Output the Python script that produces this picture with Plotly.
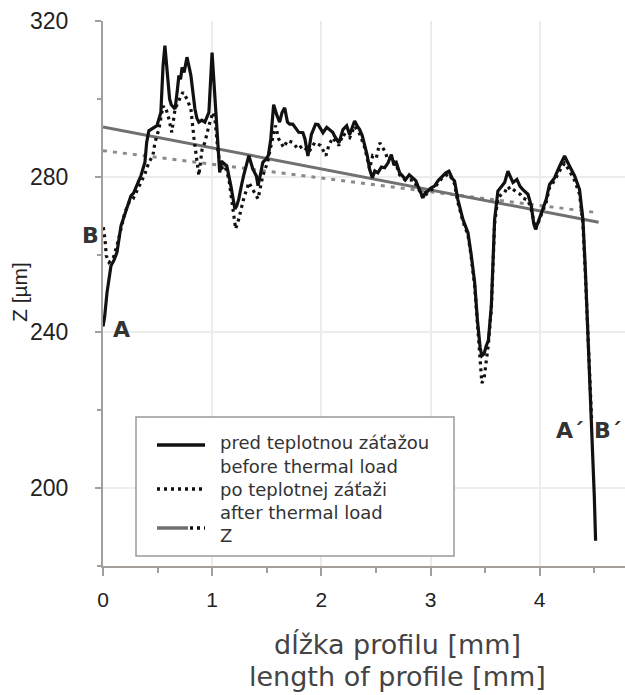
import plotly.graph_objects as go

# ---- data ----
x_before = [0.000, 0.015, 0.037, 0.073, 0.100, 0.128, 0.165, 0.200, 0.220, 0.256, 0.280, 0.311, 0.348, 0.384,
            0.400, 0.420, 0.460, 0.494, 0.530, 0.550, 0.567, 0.585, 0.610, 0.625, 0.660, 0.680, 0.695, 0.710,
            0.725, 0.743, 0.769, 0.790, 0.805, 0.842, 0.860, 0.878, 0.905, 0.933, 0.955, 0.970, 0.999, 1.025,
            1.054, 1.069, 1.084, 1.098, 1.134, 1.171, 1.208, 1.225, 1.244, 1.270, 1.288, 1.336, 1.372, 1.405,
            1.420, 1.445, 1.464, 1.493, 1.515, 1.537, 1.563, 1.590, 1.618, 1.640, 1.664, 1.690, 1.710, 1.738,
            1.765, 1.793, 1.831, 1.850, 1.877, 1.908, 1.947, 1.970, 1.994, 2.015, 2.049, 2.076, 2.104, 2.122,
            2.161, 2.198, 2.232, 2.259, 2.285, 2.305, 2.330, 2.351, 2.375, 2.397, 2.420, 2.442, 2.467, 2.490,
            2.518, 2.550, 2.580, 2.610, 2.641, 2.665, 2.687, 2.717, 2.745, 2.772, 2.805, 2.839, 2.865, 2.885,
            2.910, 2.930, 2.955, 2.976, 3.000, 3.036, 3.070, 3.110, 3.140, 3.169, 3.200, 3.220, 3.250, 3.297,
            3.343, 3.370, 3.404, 3.430, 3.455, 3.470, 3.490, 3.510, 3.530, 3.557, 3.575, 3.587, 3.617, 3.650,
            3.679, 3.709, 3.735, 3.755, 3.791, 3.820, 3.846, 3.892, 3.923, 3.945, 3.962, 3.984, 4.014, 4.060,
            4.090, 4.136, 4.182, 4.228, 4.274, 4.320, 4.365, 4.396, 4.418, 4.442, 4.463, 4.487, 4.500, 4.512]
z_before = [241.5, 244.0, 250.3, 257.1, 258.5, 260.6, 267.4, 270.5, 272.5, 275.1, 275.8, 277.7, 280.3, 283.7,
            288.8, 291.8, 292.5, 293.1, 296.5, 308.5, 313.7, 308.5, 300.0, 298.5, 297.4, 302.0, 306.0, 305.0,
            308.1, 306.8, 310.7, 308.0, 306.0, 297.4, 295.0, 294.0, 294.5, 294.0, 295.5, 296.5, 311.9, 300.0,
            288.0, 281.1, 284.0, 283.7, 282.8, 277.7, 271.7, 272.5, 274.3, 278.0, 280.3, 285.4, 282.0, 280.2,
            277.7, 281.0, 283.7, 284.5, 285.5, 289.7, 298.5, 296.0, 294.0, 296.5, 297.7, 294.0, 293.5, 293.5,
            292.5, 291.4, 291.3, 289.7, 285.3, 290.8, 293.5, 293.4, 292.3, 291.3, 292.7, 292.1, 291.4, 290.4,
            288.7, 292.1, 293.1, 290.8, 292.5, 294.3, 293.0, 292.1, 290.5, 288.3, 285.5, 281.9, 279.7, 281.5,
            281.0, 282.5, 282.3, 283.5, 285.7, 283.0, 283.6, 281.0, 280.0, 279.3, 280.5, 279.7, 279.0, 277.6,
            276.0, 274.6, 276.0, 276.3, 277.0, 277.6, 279.0, 280.2, 281.0, 281.4, 279.5, 278.9, 274.2, 269.0,
            265.6, 260.5, 252.9, 243.0, 236.0, 234.0, 234.5, 236.5, 238.0, 246.8, 262.0, 269.0, 276.3, 277.5,
            278.5, 281.4, 279.5, 278.5, 279.3, 277.5, 276.7, 275.5, 272.5, 268.0, 266.5, 268.2, 270.3, 274.2,
            278.0, 279.7, 282.7, 285.3, 282.7, 280.2, 276.7, 269.0, 256.2, 239.1, 226.0, 211.0, 198.0, 186.5]

x_after = [0.003, 0.018, 0.030, 0.055, 0.090, 0.128, 0.165, 0.200, 0.238, 0.275, 0.311, 0.348, 0.384, 0.420,
           0.457, 0.476, 0.512, 0.550, 0.565, 0.578, 0.604, 0.630, 0.660, 0.702, 0.732, 0.769, 0.805, 0.834,
           0.860, 0.878, 0.908, 0.933, 0.970, 1.006, 1.025, 1.054, 1.080, 1.117, 1.153, 1.190, 1.215, 1.244,
           1.288, 1.336, 1.372, 1.420, 1.464, 1.507, 1.545, 1.580, 1.610, 1.655, 1.690, 1.738, 1.786, 1.830,
           1.885, 1.940, 1.994, 2.042, 2.068, 2.104, 2.161, 2.198, 2.259, 2.305, 2.351, 2.397, 2.442, 2.470,
           2.504, 2.535, 2.580, 2.610, 2.641, 2.687, 2.717, 2.772, 2.839, 2.885, 2.930, 2.976, 3.036, 3.110,
           3.169, 3.220, 3.250, 3.297, 3.343, 3.370, 3.404, 3.430, 3.455, 3.470, 3.490, 3.510, 3.530, 3.557,
           3.575, 3.587, 3.617, 3.650, 3.679, 3.709, 3.735, 3.755, 3.791, 3.820, 3.846, 3.892, 3.923, 3.962,
           3.984, 4.014, 4.060, 4.090, 4.136, 4.182, 4.228, 4.274, 4.320, 4.365, 4.396, 4.418, 4.442, 4.463,
           4.475]
z_after = [267.0, 264.0, 259.7, 258.0, 258.8, 262.3, 266.6, 270.8, 273.4, 274.3, 276.4, 278.5, 280.7, 283.7,
           285.4, 288.8, 292.2, 298.2, 297.3, 297.4, 294.8, 291.4, 297.4, 300.0, 301.7, 300.0, 297.4, 289.7,
           283.7, 280.3, 287.1, 288.8, 293.1, 296.5, 294.8, 286.3, 282.0, 282.8, 279.4, 272.5, 266.6, 269.2,
           274.3, 278.5, 276.8, 274.3, 280.3, 283.7, 288.8, 293.1, 289.7, 287.5, 289.3, 288.8, 287.1, 288.0,
           286.3, 288.8, 288.0, 285.4, 288.0, 290.0, 288.0, 291.0, 290.0, 293.0, 291.0, 287.5, 282.0, 285.4,
           284.9, 288.7, 286.6, 284.4, 285.0, 283.0, 280.5, 279.0, 279.2, 277.2, 274.5, 276.0, 277.2, 279.8,
           280.8, 278.2, 273.5, 268.5, 265.0, 260.0, 252.0, 242.0, 232.0, 227.0, 228.0, 232.0, 237.0, 246.0,
           261.0, 268.0, 274.5, 275.5, 276.0, 277.5, 276.5, 276.8, 276.0, 275.5, 274.5, 274.0, 271.5, 266.5,
           268.0, 270.0, 273.5, 277.2, 279.0, 281.5, 283.5, 281.5, 279.0, 275.5, 268.0, 255.0, 238.5, 225.0,
           218.0]

# linear trend lines "Z" (end points)
x_trend_before = [0.0, 4.54]
z_trend_before = [292.8, 268.3]
x_trend_after = [0.0, 4.52]
z_trend_after = [286.7, 270.8]

x_ticks = [0, 1, 2, 3, 4]
y_ticks = [200, 240, 280, 320]

legend_lines = ["pred teplotnou záťažou", "before thermal load",
                "po teplotnej záťaži", "after thermal load", "Z"]

# profile end-point labels (A/A´ = before, B/B´ = after)
point_labels = ["<b>A</b>", "<b>A´</b>", "<b>B´</b>"]
point_x = [0.171, 4.274, 4.77]
point_y = [240.7, 214.8, 214.8]

# ---- figure ----
W, H = 625, 695
ML, MR, MT, MB = 103, 0, 21, 129
PW, PH = W - ML - MR, H - MT - MB
PX_PER_MM = 109.175
XMAX = PW / PX_PER_MM


def px(xp):
    return (xp - ML) / PW


def py(yp):
    return (H - MB - yp) / PH


FONT = "Liberation Sans, Arial, sans-serif"
WIDE = "DejaVu Sans, sans-serif"

fig = go.Figure()
fig.add_trace(go.Scatter(x=x_trend_after, y=z_trend_after, mode="lines",
                         line=dict(color="#8a8a8a", width=3, dash="4px,6px"),
                         showlegend=False, hoverinfo="skip"))
fig.add_trace(go.Scatter(x=x_trend_before, y=z_trend_before, mode="lines",
                         line=dict(color="#707070", width=3),
                         showlegend=False, hoverinfo="skip"))
fig.add_trace(go.Scatter(x=x_after, y=z_after, mode="lines",
                         line=dict(color="#111111", width=3.2, dash="3px,4px"),
                         showlegend=False))
fig.add_trace(go.Scatter(x=x_before, y=z_before, mode="lines",
                         line=dict(color="#111111", width=3.2),
                         showlegend=False))

fig.update_xaxes(range=[0, XMAX], tickvals=x_ticks, ticktext=[str(v) for v in x_ticks],
                 showline=True, linecolor="#a59f9b", linewidth=2,
                 ticks="outside", ticklen=8, tickwidth=1.5, tickcolor="#a59f9b",
                 minor=dict(dtick=0.5, ticks="outside", ticklen=5, tickwidth=1.5,
                            tickcolor="#a59f9b", showgrid=False),
                 showgrid=True, gridcolor="#ececec", gridwidth=1.5, zeroline=False,
                 tickfont=dict(family=FONT, size=21, color="#222222"),
                 ticklabelstandoff=6)
fig.update_yaxes(range=[180, 320], tickvals=y_ticks, ticktext=[str(v) for v in y_ticks],
                 showline=True, linecolor="#a59f9b", linewidth=2,
                 ticks="outside", ticklen=6, tickwidth=1.5, tickcolor="#a59f9b",
                 minor=dict(dtick=20, ticks="outside", ticklen=4, tickwidth=1.5,
                            tickcolor="#a59f9b", showgrid=False),
                 showgrid=True, gridcolor="#ececec", gridwidth=1.5, zeroline=False,
                 tickfont=dict(family=FONT, size=23, color="#222222"),
                 ticklabelstandoff=22)

annotations = []
for t, xv, yv in zip(point_labels, point_x, point_y):
    anchor = "right" if t == "<b>B´</b>" else "center"
    annotations.append(dict(x=xv, y=yv, xref="x", yref="y", text=t, showarrow=False,
                            xanchor=anchor, yanchor="middle",
                            font=dict(family=WIDE, size=22, color="#333333")))
# "B" sits left of the y axis (outside the x range) -> paper x, data y
annotations.append(dict(x=px(90), y=264.8, xref="paper", yref="y", text="<b>B</b>", showarrow=False,
                        xanchor="center", yanchor="middle",
                        font=dict(family=WIDE, size=22, color="#333333")))

# axis titles
annotations.append(dict(x=px(19), y=py(292), xref="paper", yref="paper", text="Z [µm]",
                        textangle=-90, showarrow=False, xanchor="center", yanchor="middle",
                        font=dict(family=FONT, size=21, color="#222222")))
annotations.append(dict(x=px(397), y=py(644), xref="paper", yref="paper", text="dĺžka profilu [mm]",
                        showarrow=False, xanchor="center", yanchor="middle",
                        font=dict(family=WIDE, size=27, color="#444444")))
annotations.append(dict(x=px(397), y=py(676), xref="paper", yref="paper", text="length of profile [mm]",
                        showarrow=False, xanchor="center", yanchor="middle",
                        font=dict(family=WIDE, size=27, color="#444444")))

# legend (drawn by hand to reproduce the boxed multi-line layout)
shapes = [dict(type="rect", xref="paper", yref="paper", x0=px(136), x1=px(454), y0=py(556), y1=py(417),
               line=dict(color="#9a9a9a", width=1.5), fillcolor="white", layer="above")]
shapes.append(dict(type="line", xref="paper", yref="paper", x0=px(157), x1=px(205), y0=py(445), y1=py(445),
                   line=dict(color="#111111", width=3.5), layer="above"))
shapes.append(dict(type="line", xref="paper", yref="paper", x0=px(157), x1=px(205), y0=py(489), y1=py(489),
                   line=dict(color="#111111", width=3.5, dash="3px,4px"), layer="above"))
shapes.append(dict(type="line", xref="paper", yref="paper", x0=px(157), x1=px(188), y0=py(528), y1=py(528),
                   line=dict(color="#707070", width=3.5), layer="above"))
shapes.append(dict(type="line", xref="paper", yref="paper", x0=px(190), x1=px(205), y0=py(528), y1=py(528),
                   line=dict(color="#111111", width=3.5, dash="3px,4px"), layer="above"))
for t, yp in zip(legend_lines, [443, 466, 489, 512, 535]):
    annotations.append(dict(x=px(218), y=py(yp), xref="paper", yref="paper", text=t,
                            showarrow=False, xanchor="left", yanchor="middle",
                            font=dict(family=WIDE, size=18, color="#333333")))

fig.update_layout(width=W, height=H, margin=dict(l=ML, r=MR, t=MT, b=MB, pad=0),
                  plot_bgcolor="white", paper_bgcolor="white",
                  showlegend=False, annotations=annotations, shapes=shapes)

fig.write_html("out.html", config={"displayModeBar": False},
               post_script="document.body.style.margin='0';document.body.style.overflow='hidden';")
